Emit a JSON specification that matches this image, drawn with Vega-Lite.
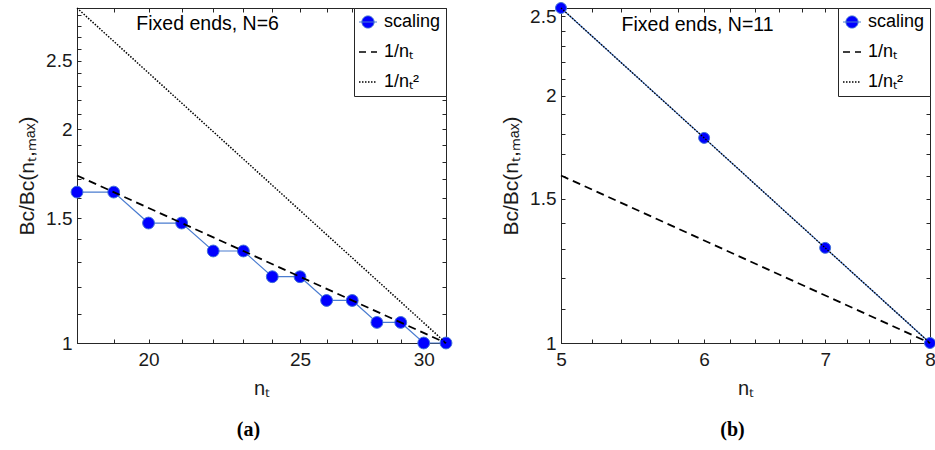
{
  "$schema": "https://vega.github.io/schema/vega-lite/v6.json",
  "padding": {"left": 16, "top": 0, "right": 2, "bottom": 2},
  "datasets": {
    "a": [
      {"nt": 18, "ratio": 1.632, "series": "scaling"},
      {"nt": 19, "ratio": 1.632, "series": "scaling"},
      {"nt": 20, "ratio": 1.476, "series": "scaling"},
      {"nt": 21, "ratio": 1.476, "series": "scaling"},
      {"nt": 22, "ratio": 1.348, "series": "scaling"},
      {"nt": 23, "ratio": 1.348, "series": "scaling"},
      {"nt": 24, "ratio": 1.24, "series": "scaling"},
      {"nt": 25, "ratio": 1.24, "series": "scaling"},
      {"nt": 26, "ratio": 1.148, "series": "scaling"},
      {"nt": 27, "ratio": 1.148, "series": "scaling"},
      {"nt": 28, "ratio": 1.069, "series": "scaling"},
      {"nt": 29, "ratio": 1.069, "series": "scaling"},
      {"nt": 30, "ratio": 1.0, "series": "scaling"},
      {"nt": 31, "ratio": 1.0, "series": "scaling"},
      {"nt": 18, "ratio": 1.7222, "series": "1/nₜ"},
      {"nt": 31, "ratio": 1.0, "series": "1/nₜ"},
      {"nt": 18, "ratio": 2.966, "series": "1/nₜ²"},
      {"nt": 31, "ratio": 1.0, "series": "1/nₜ²"}
    ],
    "b": [
      {"nt": 5, "ratio": 2.56, "series": "scaling"},
      {"nt": 6, "ratio": 1.778, "series": "scaling"},
      {"nt": 7, "ratio": 1.306, "series": "scaling"},
      {"nt": 8, "ratio": 1.0, "series": "scaling"},
      {"nt": 5, "ratio": 1.6, "series": "1/nₜ"},
      {"nt": 8, "ratio": 1.0, "series": "1/nₜ"},
      {"nt": 5, "ratio": 2.56, "series": "1/nₜ²"},
      {"nt": 8, "ratio": 1.0, "series": "1/nₜ²"}
    ]
  },
  "hconcat": [
    {
      "width": 369,
      "height": 335,
      "title": {"text": "(a)", "orient": "bottom", "font": "Liberation Serif", "fontWeight": "bold", "fontSize": 20, "color": "black", "dx": -13, "offset": 22},
      "data": {"name": "a"},
      "resolve": {"axis": {"x": "independent", "y": "independent"}},
      "layer": [
        {
          "data": {"values": [{"label": "Fixed ends, N=6"}]},
          "mark": {"type": "text", "fontSize": 19.5, "color": "black", "align": "center", "baseline": "alphabetic"},
          "encoding": {
            "x": {"datum": 21.82, "type": "quantitative", "scale": {"type": "log", "domain": [18, 31], "nice": false, "zero": false}, "axis": null},
            "y": {"datum": 2.763, "type": "quantitative", "scale": {"type": "log", "domain": [1, 2.966], "nice": false, "zero": false}, "axis": null},
            "text": {"field": "label"}
          }
        },
        {
          "transform": [{"filter": "datum.series === 'scaling'"}],
          "mark": {"type": "line", "strokeWidth": 1.2},
          "encoding": {
            "x": {"field": "nt", "type": "quantitative", "scale": {"type": "log", "domain": [18, 31], "nice": false, "zero": false},
              "axis": {"orient": "bottom", "values": [18,19,20,21,22,23,24,25,26,27,28,29,30,31], "labelExpr": "datum.value % 5 === 0 ? '' + datum.value : ''", "labelPadding": 11, "title": "nₜ", "titlePadding": 9}},
            "y": {"field": "ratio", "type": "quantitative", "scale": {"type": "log", "domain": [1, 2.966], "nice": false, "zero": false},
              "axis": {"orient": "left", "values": [1,1.1,1.2,1.3,1.4,1.5,1.6,1.7,1.8,1.9,2,2.1,2.2,2.3,2.4,2.5,2.6,2.7,2.8,2.9], "labelExpr": "indexof([1,1.5,2,2.5], datum.value) >= 0 ? '' + datum.value : ''", "labelPadding": 9, "title": "Bc/Bc(nₜ,ₘₐₓ)", "titleFontSize": 21, "titlePadding": 8}},
            "color": {"field": "series", "type": "nominal",
              "scale": {"domain": ["scaling", "1/nₜ", "1/nₜ²"], "range": ["#4a7cd0", "#000000", "#000000"]},
              "legend": {
                "orient": "top-right", "offset": 0, "title": null,
                "strokeColor": "#262626", "fillColor": "white", "padding": 5,
                "labelFontSize": 18, "labelColor": "black", "labelOffset": 7,
                "symbolSize": 324, "rowPadding": 12,
                "encode": {"symbols": {"update": {
                  "shape": {"signal": "datum.value === 'scaling' ? 'M-1,0L1,0M0.68,0A0.68,0.68,0,1,1,-0.68,0A0.68,0.68,0,1,1,0.68,0' : 'M-1,0L1,0'"},
                  "size": {"value": 324},
                  "fill": {"signal": "datum.value === 'scaling' ? '#0000ff' : 'transparent'"},
                  "stroke": {"signal": "datum.value === 'scaling' ? '#4a7cd0' : 'black'"},
                  "strokeDash": {"signal": "datum.value === '1/nₜ' ? [7,5] : (datum.value === '1/nₜ²' ? [1.5,1.5] : [1,0])"},
                  "strokeWidth": {"signal": "datum.value === 'scaling' ? 1 : 1.6"},
                  "opacity": {"value": 1}
                }}}
              }
            }
          }
        },
        {
          "transform": [{"filter": "datum.series === 'scaling'"}],
          "mark": {"type": "point", "filled": true, "fill": "#0000ff", "stroke": "#3f6fd8", "strokeWidth": 1, "size": 140, "opacity": 1},
          "encoding": {
            "x": {"field": "nt", "type": "quantitative", "scale": {"type": "log", "domain": [18, 31], "nice": false, "zero": false}, "axis": null},
            "y": {"field": "ratio", "type": "quantitative", "scale": {"type": "log", "domain": [1, 2.966], "nice": false, "zero": false}, "axis": null}
          }
        },
        {
          "transform": [{"filter": "datum.series === '1/nₜ'"}],
          "mark": {"type": "line", "strokeWidth": 1.8, "strokeDash": [8, 5]},
          "encoding": {
            "x": {"field": "nt", "type": "quantitative", "scale": {"type": "log", "domain": [18, 31], "nice": false, "zero": false}, "axis": null},
            "y": {"field": "ratio", "type": "quantitative", "scale": {"type": "log", "domain": [1, 2.966], "nice": false, "zero": false}, "axis": null},
            "color": {"field": "series", "type": "nominal", "scale": {"domain": ["scaling", "1/nₜ", "1/nₜ²"], "range": ["#4a7cd0", "#000000", "#000000"]}}
          }
        },
        {
          "transform": [{"filter": "datum.series === '1/nₜ²'"}],
          "mark": {"type": "line", "strokeWidth": 1.5, "strokeDash": [1.5, 1.5]},
          "encoding": {
            "x": {"field": "nt", "type": "quantitative", "scale": {"type": "log", "domain": [18, 31], "nice": false, "zero": false},
              "axis": {"orient": "top", "values": [18,19,20,21,22,23,24,25,26,27,28,29,30,31], "labels": false, "title": null}},
            "y": {"field": "ratio", "type": "quantitative", "scale": {"type": "log", "domain": [1, 2.966], "nice": false, "zero": false},
              "axis": {"orient": "right", "values": [1,1.1,1.2,1.3,1.4,1.5,1.6,1.7,1.8,1.9,2,2.1,2.2,2.3,2.4,2.5,2.6,2.7,2.8,2.9], "labels": false, "title": null}},
            "color": {"field": "series", "type": "nominal", "scale": {"domain": ["scaling", "1/nₜ", "1/nₜ²"], "range": ["#4a7cd0", "#000000", "#000000"]}}
          }
        }
      ]
    },
    {
      "width": 369,
      "height": 335,
      "title": {"text": "(b)", "orient": "bottom", "font": "Liberation Serif", "fontWeight": "bold", "fontSize": 20, "color": "black", "dx": -13, "offset": 22},
      "data": {"name": "b"},
      "resolve": {"axis": {"x": "independent", "y": "independent"}},
      "layer": [
        {
          "data": {"values": [{"label": "Fixed ends, N=11"}]},
          "mark": {"type": "text", "fontSize": 19.5, "color": "black", "align": "center", "baseline": "alphabetic"},
          "encoding": {
            "x": {"datum": 5.95, "type": "quantitative", "scale": {"type": "log", "domain": [5, 8], "nice": false, "zero": false}, "axis": null},
            "y": {"datum": 2.401, "type": "quantitative", "scale": {"type": "log", "domain": [1, 2.56], "nice": false, "zero": false}, "axis": null},
            "text": {"field": "label"}
          }
        },
        {
          "transform": [{"filter": "datum.series === 'scaling'"}],
          "mark": {"type": "line", "strokeWidth": 1.2},
          "encoding": {
            "x": {"field": "nt", "type": "quantitative", "scale": {"type": "log", "domain": [5, 8], "nice": false, "zero": false},
              "axis": {"orient": "bottom", "values": [5,5.2,5.4,5.6,5.8,6,6.2,6.4,6.6,6.8,7,7.2,7.4,7.6,7.8,8], "labelExpr": "datum.value % 1 === 0 ? '' + datum.value : ''", "labelPadding": 11, "title": "nₜ", "titlePadding": 9}},
            "y": {"field": "ratio", "type": "quantitative", "scale": {"type": "log", "domain": [1, 2.56], "nice": false, "zero": false},
              "axis": {"orient": "left", "values": [1,1.1,1.2,1.3,1.4,1.5,1.6,1.7,1.8,1.9,2,2.1,2.2,2.3,2.4,2.5], "labelExpr": "indexof([1,1.5,2,2.5], datum.value) >= 0 ? '' + datum.value : ''", "labelPadding": 9, "title": "Bc/Bc(nₜ,ₘₐₓ)", "titleFontSize": 21, "titlePadding": 8}},
            "color": {"field": "series", "type": "nominal",
              "scale": {"domain": ["scaling", "1/nₜ", "1/nₜ²"], "range": ["#4a7cd0", "#000000", "#000000"]},
              "legend": {
                "orient": "top-right", "offset": 0, "title": null,
                "strokeColor": "#262626", "fillColor": "white", "padding": 5,
                "labelFontSize": 18, "labelColor": "black", "labelOffset": 7,
                "symbolSize": 324, "rowPadding": 12,
                "encode": {"symbols": {"update": {
                  "shape": {"signal": "datum.value === 'scaling' ? 'M-1,0L1,0M0.68,0A0.68,0.68,0,1,1,-0.68,0A0.68,0.68,0,1,1,0.68,0' : 'M-1,0L1,0'"},
                  "size": {"value": 324},
                  "fill": {"signal": "datum.value === 'scaling' ? '#0000ff' : 'transparent'"},
                  "stroke": {"signal": "datum.value === 'scaling' ? '#4a7cd0' : 'black'"},
                  "strokeDash": {"signal": "datum.value === '1/nₜ' ? [7,5] : (datum.value === '1/nₜ²' ? [1.5,1.5] : [1,0])"},
                  "strokeWidth": {"signal": "datum.value === 'scaling' ? 1 : 1.6"},
                  "opacity": {"value": 1}
                }}}
              }
            }
          }
        },
        {
          "transform": [{"filter": "datum.series === 'scaling'"}],
          "mark": {"type": "point", "filled": true, "fill": "#0000ff", "stroke": "#3f6fd8", "strokeWidth": 1, "size": 120, "opacity": 1},
          "encoding": {
            "x": {"field": "nt", "type": "quantitative", "scale": {"type": "log", "domain": [5, 8], "nice": false, "zero": false}, "axis": null},
            "y": {"field": "ratio", "type": "quantitative", "scale": {"type": "log", "domain": [1, 2.56], "nice": false, "zero": false}, "axis": null}
          }
        },
        {
          "transform": [{"filter": "datum.series === '1/nₜ'"}],
          "mark": {"type": "line", "strokeWidth": 1.8, "strokeDash": [8, 5]},
          "encoding": {
            "x": {"field": "nt", "type": "quantitative", "scale": {"type": "log", "domain": [5, 8], "nice": false, "zero": false}, "axis": null},
            "y": {"field": "ratio", "type": "quantitative", "scale": {"type": "log", "domain": [1, 2.56], "nice": false, "zero": false}, "axis": null},
            "color": {"field": "series", "type": "nominal", "scale": {"domain": ["scaling", "1/nₜ", "1/nₜ²"], "range": ["#4a7cd0", "#000000", "#000000"]}}
          }
        },
        {
          "transform": [{"filter": "datum.series === '1/nₜ²'"}],
          "mark": {"type": "line", "strokeWidth": 1.3, "strokeDash": [1.5, 1.5]},
          "encoding": {
            "x": {"field": "nt", "type": "quantitative", "scale": {"type": "log", "domain": [5, 8], "nice": false, "zero": false},
              "axis": {"orient": "top", "values": [5,5.2,5.4,5.6,5.8,6,6.2,6.4,6.6,6.8,7,7.2,7.4,7.6,7.8,8], "labels": false, "title": null}},
            "y": {"field": "ratio", "type": "quantitative", "scale": {"type": "log", "domain": [1, 2.56], "nice": false, "zero": false},
              "axis": {"orient": "right", "values": [1,1.1,1.2,1.3,1.4,1.5,1.6,1.7,1.8,1.9,2,2.1,2.2,2.3,2.4,2.5], "labels": false, "title": null}},
            "color": {"field": "series", "type": "nominal", "scale": {"domain": ["scaling", "1/nₜ", "1/nₜ²"], "range": ["#4a7cd0", "#000000", "#000000"]}}
          }
        }
      ]
    }
  ],
  "spacing": 45,
  "resolve": {"scale": {"color": "independent", "x": "independent", "y": "independent"}, "legend": {"color": "independent"}},
  "config": {
    "font": "Liberation Sans",
    "view": {"stroke": "#262626", "strokeWidth": 1},
    "axis": {"grid": false, "domainColor": "#262626", "tickColor": "#262626", "labelColor": "#1a1a1a", "titleColor": "#1a1a1a", "labelFontSize": 19, "titleFontSize": 20, "titleFontWeight": "normal", "tickSize": -4, "labelOverlap": false, "labelFlush": false, "labelBound": false, "domainWidth": 1, "tickWidth": 1},
    "legend": {"labelFont": "Liberation Sans"}
  }
}
